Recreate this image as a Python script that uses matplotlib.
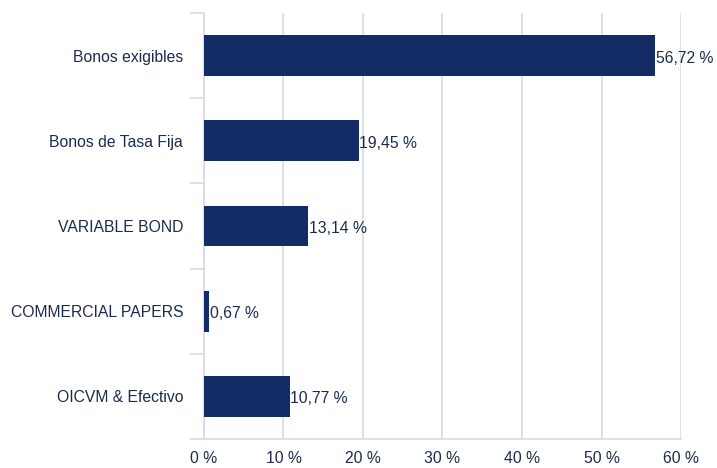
import matplotlib.pyplot as plt
from matplotlib.ticker import FixedLocator

categories = ["Bonos exigibles", "Bonos de Tasa Fija", "VARIABLE BOND",
              "COMMERCIAL PAPERS", "OICVM & Efectivo"]
values = [56.72, 19.45, 13.14, 0.67, 10.77]
xticks = [0, 10, 20, 30, 40, 50, 60]

bar_color = "#132c66"
grid_color = "#d3dce8"
text_color = "#1c2b4d"

plt.rcParams['font.family'] = ['Liberation Sans', 'DejaVu Sans']

fig = plt.figure(figsize=(7.17, 4.68), dpi=100)
ax = fig.add_axes([0.2845, 0.062, 0.6653, 0.910])

y = list(range(len(categories)))
ax.barh(y, values, height=0.48, color=bar_color, zorder=3)
for yi, v in zip(y, values):
    ax.text(v + 0.1, yi + 0.03, f"{v:.2f} %".replace(".", ","), va="center", ha="left",
            fontsize=11.3, color=text_color, zorder=4)

ax.set_ylim(len(categories) - 0.5, -0.5)
ax.set_xlim(0, 60)
ax.set_yticks(y)
ax.set_yticklabels(categories)
ax.yaxis.set_minor_locator(FixedLocator([i - 0.5 for i in range(len(categories) + 1)]))
ax.tick_params(axis="y", which="major", length=0, pad=15, labelsize=11.3, labelcolor=text_color)
ax.tick_params(axis="y", which="minor", length=10, width=1.2, color=grid_color)

ax.set_xticks(xticks)
ax.set_xticklabels([f"{t} %" for t in xticks])
ax.tick_params(axis="x", length=0, pad=9, labelsize=11.3, labelcolor=text_color)

ax.grid(axis="x", color=grid_color, linewidth=1.2, zorder=0)
for s in ["top", "right"]:
    ax.spines[s].set_visible(False)
ax.spines["left"].set_color(grid_color)
ax.spines["left"].set_linewidth(1.2)
ax.spines["bottom"].set_color(grid_color)
ax.spines["bottom"].set_linewidth(1.2)

fig.savefig("out.png", dpi=100)
